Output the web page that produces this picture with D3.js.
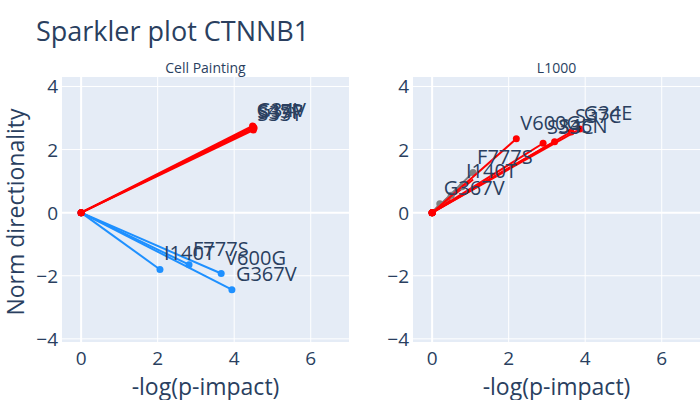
<!DOCTYPE html>
<html><head><meta charset="utf-8">
<script src="https://cdn.jsdelivr.net/npm/d3@7"></script>
<style>body{margin:0;background:#fff}text{font-family:"Open Sans",Arial,sans-serif;fill:#2a3f5f}</style>
</head><body><svg id="c" width="700" height="400"></svg>
<script>
// Cell Painting panel
const cpLabels = ["I140T", "F777S", "V600G", "G367V", "S33Y", "S37F", "S45P", "G34V"];
const cpX = [2.06, 2.82, 3.66, 3.94, 4.5, 4.52, 4.5, 4.48];
const cpY = [-1.8, -1.65, -1.93, -2.44, 2.62, 2.68, 2.72, 2.75];
const cpColor = ["#1e90ff", "#1e90ff", "#1e90ff", "#1e90ff", "red", "red", "red", "red"];
// L1000 panel
const lLabels = ["G367V", "I140T", "F777S", "", "V600G", "S33C", "S45N", "S37C", "G34E"];
const lX = [0.2, 0.78, 1.07, 0.5, 2.2, 2.9, 3.2, 3.63, 3.86];
const lY = [0.28, 0.82, 1.27, 0.55, 2.34, 2.2, 2.25, 2.56, 2.65];
const lColor = ["grey", "grey", "grey", "grey", "red", "red", "red", "red", "red"];
const lRed = [[0.78, 0.9], [1.07, 1.05], [0.5, 0.4]]; // extra red segments near the grey ones
const xTicks = [0, 2, 4, 6];
const yTicks = [-4, -2, 0, 2, 4];

const svg = d3.select('#c');
svg.append('text').attr('x', 36).attr('y', 41).style('font-size', '27px').text('Sparkler plot CTNNB1');

function panel(x0, x1, title, labels, xs, ys, cols, extra) {
    const x = d3.scaleLinear().domain([-0.5, 7]).range([x0, x1]);
    const y = d3.scaleLinear().domain([-4.1, 4.3]).range([342, 77]);
    const g = svg.append('g');
    g.append('rect').attr('x', x0).attr('y', 77).attr('width', x1 - x0).attr('height', 265).attr('fill', '#e5ecf6');
    xTicks.forEach(t => g.append('line').attr('x1', x(t)).attr('x2', x(t)).attr('y1', 77).attr('y2', 342)
        .attr('stroke', '#fff').attr('stroke-width', t === 0 ? 2 : 1));
    yTicks.forEach(t => g.append('line').attr('y1', y(t)).attr('y2', y(t)).attr('x1', x0).attr('x2', x1)
        .attr('stroke', '#fff').attr('stroke-width', t === 0 ? 2 : 1));
    xTicks.forEach(t => g.append('text').attr('x', x(t)).attr('y', 365).attr('text-anchor', 'middle').style('font-size', '19px').text(t));
    yTicks.forEach(t => g.append('text').attr('x', x0 - 4).attr('y', y(t) + 7).attr('text-anchor', 'end').style('font-size', '19px').text(t < 0 ? '\u2212' + Math.abs(t) : t));
    g.append('text').attr('x', (x0 + x1) / 2).attr('y', 73).attr('text-anchor', 'middle').style('font-size', '14px').text(title);
    g.append('text').attr('x', (x0 + x1) / 2).attr('y', 395).attr('text-anchor', 'middle').style('font-size', '23px').text('-log(p-impact)');
    (extra || []).forEach(p => {
        g.append('line').attr('x1', x(0)).attr('y1', y(0)).attr('x2', x(p[0])).attr('y2', y(p[1])).attr('stroke', 'red').attr('stroke-width', 2);
    });
    xs.forEach((v, i) => {
        g.append('line').attr('x1', x(0)).attr('y1', y(0)).attr('x2', x(v)).attr('y2', y(ys[i]))
            .attr('stroke', cols[i]).attr('stroke-width', 2);
        g.append('circle').attr('cx', x(0)).attr('cy', y(0)).attr('r', 3.5).attr('fill', cols[i]);
        g.append('circle').attr('cx', x(v)).attr('cy', y(ys[i])).attr('r', 3.5).attr('fill', cols[i]);
    });
    xs.forEach((v, i) => {
        g.append('text').attr('x', x(v) + 4).attr('y', y(ys[i]) - 9).style('font-size', '20px').text(labels[i]);
    });
    return g;
}
panel(62, 349, 'Cell Painting', cpLabels, cpX, cpY, cpColor);
panel(413, 700, 'L1000', lLabels, lX, lY, lColor, lRed);
svg.append('text').attr('transform', 'translate(24,212) rotate(-90)').attr('text-anchor', 'middle').style('font-size', '23px').text('Norm directionality');
</script></body></html>
